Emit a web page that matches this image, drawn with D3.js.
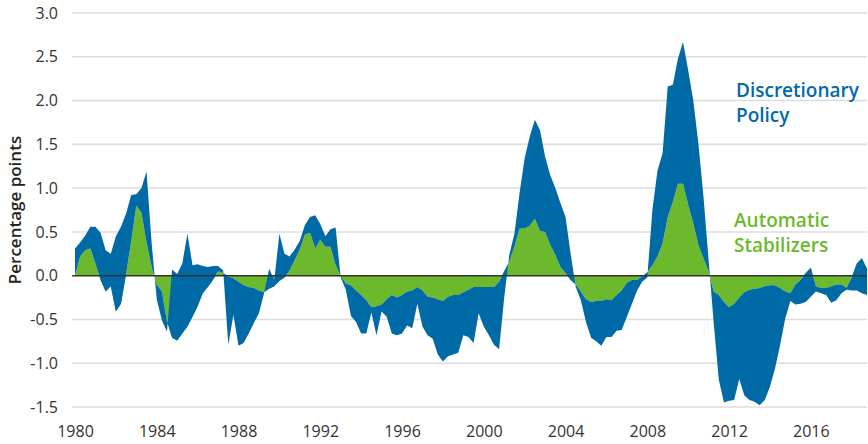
<!DOCTYPE html>
<meta charset="utf-8">
<head>
    <meta charset="UTF-8">
    <title>Fiscal impact: discretionary policy and automatic stabilizers</title>
    <style>
      body { margin: 0; background: #fff; }
      text { font-family: "Open Sans", sans-serif; }
    </style>
</head>
<body>
<script src="https://d3js.org/d3.v7.min.js"></script>
<div id="chart"></div>
<script>

    // quarterly data, 1980Q1 .. 2018Q4
    const startYear = 1980

    // automatic stabilizers (green), percentage points
    const automatic = [
       0.00,  0.22,  0.29,  0.31,  0.14, -0.05, -0.18, -0.12,
      -0.41, -0.32,  0.02,  0.39,  0.80,  0.72,  0.38,  0.10,
      -0.10, -0.18, -0.52, -0.71, -0.74, -0.66, -0.58, -0.47,
      -0.35, -0.20, -0.13, -0.05,  0.05,  0.03, -0.01, -0.03,
      -0.07, -0.11, -0.13, -0.14, -0.17, -0.19, -0.15, -0.12,
      -0.06, -0.02,  0.06,  0.18,  0.30,  0.47,  0.49,  0.31,
       0.41,  0.33,  0.33,  0.12,  0.00, -0.09, -0.11, -0.17,
      -0.22, -0.28, -0.36, -0.35, -0.33, -0.27, -0.22, -0.25,
      -0.22, -0.18, -0.17, -0.13, -0.17, -0.24, -0.25, -0.27,
      -0.29, -0.24, -0.22, -0.22, -0.19, -0.16, -0.13, -0.13,
      -0.13, -0.13, -0.13, -0.07,  0.05,  0.16,  0.33,  0.54,
       0.54,  0.57,  0.65,  0.51,  0.50,  0.35,  0.24,  0.10,
       0.03, -0.05, -0.10, -0.18, -0.27, -0.30, -0.29, -0.29,
      -0.27, -0.28, -0.22, -0.17, -0.08, -0.05, -0.05, -0.01,
       0.04,  0.12,  0.22,  0.37,  0.67,  0.84,  1.05,  1.05,
       0.81,  0.60,  0.35,  0.20,  0.05, -0.18, -0.22, -0.30,
      -0.36, -0.32, -0.25, -0.19, -0.16, -0.15, -0.14, -0.12,
      -0.11, -0.11, -0.14, -0.18, -0.20, -0.10, -0.05,  0.03,
       0.09, -0.12, -0.14, -0.14, -0.12, -0.10, -0.10, -0.14,
      -0.02,  0.14,  0.20,  0.08
    ]

    // automatic stabilizers + discretionary policy (outer edge of the blue band)
    const combined = [
       0.31,  0.38,  0.46,  0.56,  0.56,  0.49,  0.29,  0.25,
       0.45,  0.56,  0.71,  0.92,  0.93,  1.00,  1.19,  0.37,
      -0.27, -0.51, -0.64,  0.07,  0.02,  0.14,  0.48,  0.12,
       0.13,  0.11,  0.10,  0.11,  0.11,  0.06, -0.79, -0.45,
      -0.80, -0.77, -0.66, -0.54, -0.43, -0.20,  0.08, -0.05,
       0.48,  0.25,  0.22,  0.30,  0.40,  0.58,  0.67,  0.69,
       0.59,  0.45,  0.53,  0.55, -0.02, -0.16, -0.46, -0.53,
      -0.66, -0.66, -0.42, -0.68, -0.41, -0.47, -0.66, -0.68,
      -0.66, -0.57, -0.60, -0.32, -0.58, -0.68, -0.72, -0.90,
      -0.98, -0.92, -0.90, -0.88, -0.68, -0.70, -0.77, -0.43,
      -0.58, -0.68, -0.79, -0.84, -0.25,  0.24,  0.48,  0.94,
       1.34,  1.59,  1.78,  1.66,  1.36,  1.15,  1.00,  0.83,
       0.67,  0.25, -0.13, -0.28, -0.53, -0.71, -0.75, -0.80,
      -0.70, -0.70, -0.63, -0.62, -0.47, -0.32, -0.17, -0.07,
      -0.02,  0.75,  1.20,  1.40,  2.16,  2.18,  2.48,  2.67,
       2.35,  2.00,  1.51,  0.90,  0.18, -0.54, -1.19, -1.45,
      -1.43, -1.42, -1.18, -1.37, -1.42, -1.44, -1.48, -1.42,
      -1.27, -1.06, -0.79, -0.49, -0.29, -0.33, -0.32, -0.30,
      -0.24, -0.18, -0.20, -0.22, -0.31, -0.28, -0.20, -0.16,
      -0.17, -0.17, -0.20, -0.22
    ]

    const yTicks = [-1.5, -1.0, -0.5, 0, 0.5, 1.0, 1.5, 2.0, 2.5, 3.0]
    const xTicks = [1980, 1984, 1988, 1992, 1996, 2000, 2004, 2008, 2012, 2016]

    const blue = "#006aa7", green = "#6cb92d"

    const width = 868, height = 444

    const svg = d3.select("#chart")
      .append("svg")
        .attr("width", width)
        .attr("height", height)

    const data = automatic.map((a, i) => ({ t: startYear + i / 4, a: a, c: combined[i] }))

    const x = d3.scaleLinear()
      .domain([1980, 2018.75])
      .range([75, 867])

    const y = d3.scaleLinear()
      .domain([-1.5, 3])
      .range([407, 13])

    // grid
    svg.append("g")
      .selectAll("line")
      .data(yTicks.filter(d => d !== 0))
      .join("line")
        .attr("x1", 72)
        .attr("x2", 867)
        .attr("y1", d => y(d))
        .attr("y2", d => y(d))
        .style("stroke", "#dcdcdc")
        .style("stroke-width", 1.5)

    // green: zero to automatic stabilizers
    svg.append("path")
      .datum(data)
      .attr("fill", green)
      .attr("d", d3.area()
        .x(d => x(d.t))
        .y0(y(0))
        .y1(d => y(d.a)))

    // blue: discretionary policy stacked on the automatic part
    svg.append("path")
      .datum(data)
      .attr("fill", blue)
      .attr("d", d3.area()
        .x(d => x(d.t))
        .y0(d => y(d.a))
        .y1(d => y(d.c)))

    // zero line
    svg.append("line")
      .attr("x1", 72)
      .attr("x2", 867)
      .attr("y1", y(0))
      .attr("y2", y(0))
      .style("stroke", "#333")
      .style("stroke-width", 1.5)

    // y axis labels
    const yAxis = svg.append("g")
      .attr("transform", "translate(62,0)")
      .call(d3.axisLeft(y).tickValues(yTicks).tickSize(0).tickPadding(4)
        .tickFormat(d => d.toFixed(1)))
    yAxis.select(".domain").remove()
    yAxis.selectAll("text")
      .style("font-family", "'Open Sans', sans-serif")
      .style("font-size", "16px")
      .style("fill", "#333")

    // x axis labels
    const xAxis = svg.append("g")
      .attr("transform", "translate(0,422)")
      .call(d3.axisBottom(x).tickValues(xTicks).tickSize(0).tickPadding(4)
        .tickFormat(d3.format("d")))
    xAxis.select(".domain").remove()
    xAxis.selectAll("text")
      .style("font-family", "'Open Sans', sans-serif")
      .style("font-size", "16px")
      .style("fill", "#333")

    // axis title
    svg.append("text")
      .attr("transform", "translate(21,210) rotate(-90)")
      .attr("text-anchor", "middle")
      .style("font-size", "17px")
      .style("font-weight", 600)
      .style("fill", "#222")
      .text("Percentage points")

    // series labels
    const labels = [
      { lines: ["Discretionary", "Policy"], x: 736, y: 97, color: blue },
      { lines: ["Automatic", "Stabilizers"], x: 734, y: 227, color: green }
    ]
    labels.forEach(l => {
      svg.append("text")
        .attr("x", l.x)
        .attr("y", l.y)
        .style("font-size", "19px")
        .style("font-weight", 600)
        .style("fill", l.color)
        .selectAll("tspan")
        .data(l.lines)
        .join("tspan")
          .attr("x", l.x)
          .attr("dy", (d, i) => i ? 24.5 : 0)
          .text(d => d)
    })
</script>
</body>
